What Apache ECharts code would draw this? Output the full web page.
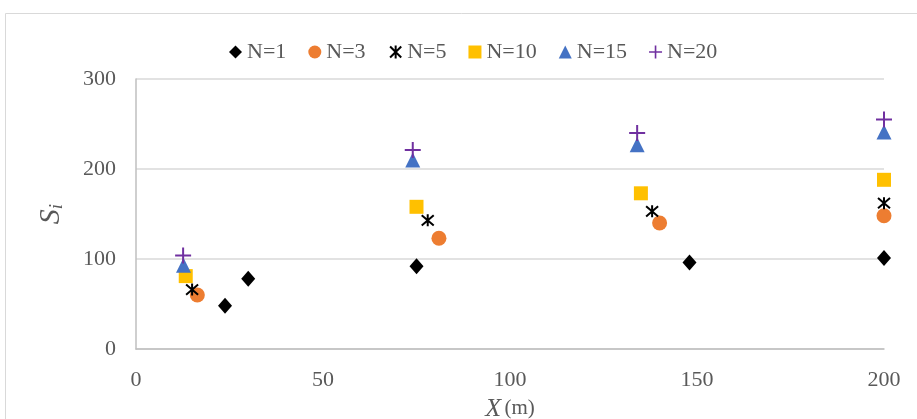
<!DOCTYPE html>
<html>
<head>
<meta charset="utf-8">
<script src="https://cdn.jsdelivr.net/npm/echarts@6/dist/echarts.min.js"></script>
<style>
  html, body { margin: 0; padding: 0; background: #fff; }
  #chart { width: 917px; height: 419px; }
</style>
</head>
<body>
<div id="chart"></div>
<script>
// data
const seriesNames = ['N=1', 'N=3', 'N=5', 'N=10', 'N=15', 'N=20'];
const n1 = [[23.8, 48], [30, 78], [75, 92], [148, 96], [200, 101]];
const n3 = [[16.4, 60], [81, 123], [140, 140], [200, 148]];
const n5 = [[15, 66], [78, 143], [138, 153], [200, 162]];
const n10 = [[13.3, 81], [75, 158], [135, 173], [200, 188]];
const n15 = [[12.7, 93], [74, 210], [134, 227], [200, 241]];
const n20 = [[12.6, 104], [74, 221], [134, 240], [200, 255]];
const xTicks = [0, 50, 100, 150, 200];
const yTicks = [0, 100, 200, 300];

const serif = 'Liberation Serif';
const grey = '#595959';

const starPath = 'path://M0,0 L12,12 M12,0 L0,12 M6,-1 L6,13';
const plusPath = 'path://M7,0 H9 V7 H16 V9 H9 V16 H7 V9 H0 V7 H7 Z';

const chart = echarts.init(document.getElementById('chart'));

function mk(name, data, symbol, size, color, extra) {
  return Object.assign({
    name: name,
    type: 'scatter',
    data: data,
    symbol: symbol,
    symbolSize: size,
    itemStyle: { color: color, opacity: 1 },
    emphasis: { disabled: true }
  }, extra || {});
}

chart.setOption({
  animation: false,
  graphic: [{
    type: 'rect',
    shape: { x: 5.5, y: 13.5, width: 1000, height: 1000 },
    style: { fill: 'none', stroke: '#d9d9d9', lineWidth: 1 },
    z: -1
  }],
  legend: {
    top: 36,
    left: 224,
    itemWidth: 13,
    itemHeight: 13,
    itemGap: 22,
    textStyle: { fontFamily: serif, fontSize: 22, color: grey },
    data: seriesNames
  },
  grid: { left: 136, right: 33, top: 79, bottom: 70, outerBoundsMode: 'none', containLabel: false },
  xAxis: {
    type: 'value',
    min: 0, max: 200, interval: 50,
    name: '{x|X} {u|(m)}',
    nameLocation: 'middle',
    nameGap: 41,
    nameTextStyle: {
      rich: {
        x: { fontFamily: serif, fontStyle: 'italic', fontSize: 26, color: grey },
        u: { fontFamily: serif, fontSize: 21, color: grey }
      }
    },
    axisLine: { show: true, lineStyle: { color: '#bfbfbf', width: 1.5 } },
    axisTick: { show: false },
    splitLine: { show: false },
    axisLabel: { fontFamily: serif, fontSize: 22, color: grey, margin: 20 }
  },
  yAxis: {
    type: 'value',
    min: 0, max: 300, interval: 100,
    name: '{s|S}{i|i}',
    nameLocation: 'middle',
    nameGap: 70,
    nameRotate: 90,
    nameTextStyle: {
      rich: {
        s: { fontFamily: serif, fontStyle: 'italic', fontSize: 30, color: grey },
        i: { fontFamily: serif, fontStyle: 'italic', fontSize: 19, color: grey, verticalAlign: 'bottom', padding: [10, 0, 0, 0] }
      }
    },
    axisLine: { show: true, lineStyle: { color: '#bfbfbf', width: 1.5 } },
    axisTick: { show: false },
    splitLine: { show: true, lineStyle: { color: '#d9d9d9', width: 1.5 } },
    axisLabel: { fontFamily: serif, fontSize: 22, color: grey, margin: 20 }
  },
  series: [
    mk('N=1', n1, 'diamond', [14, 16], '#000000'),
    mk('N=3', n3, 'circle', 15, '#ED7D31'),
    mk('N=5', n5, starPath, 12, '#000000', {
      itemStyle: { color: 'none', borderColor: '#000000', borderWidth: 2, opacity: 1 }
    }),
    mk('N=10', n10, 'rect', 14, '#FFC000'),
    mk('N=15', n15, 'triangle', [15, 15], '#4472C4'),
    mk('N=20', n20, plusPath, 16, '#7030A0')
  ]
});
</script>
</body>
</html>
